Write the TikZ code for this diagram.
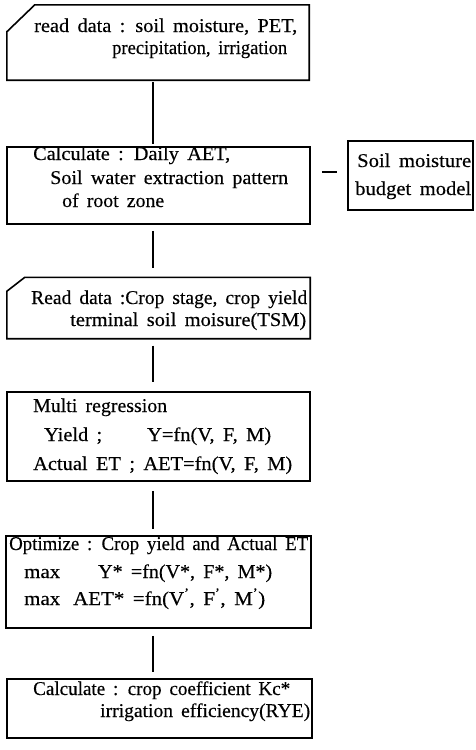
\documentclass[tikz,border=0pt]{standalone}
\usepackage{fontspec}
\setmainfont{Liberation Serif}[FakeBold=0.35]
\usepackage{graphicx}
\newcommand\fitw[2]{\resizebox{#1pt}{\height}{#2}}
\newcommand\pr{\textsuperscript{\textquoteright}}
\newcommand\widespaces{\spaceskip=8pt plus 1pt minus 1pt\relax}
\begin{document}
\begin{tikzpicture}[x=1pt,y=-1pt,
  box/.style={draw, line width=1.6pt, inner sep=0pt},
  cardbox/.style={draw=none, inner sep=0pt},
  cardline/.style={line width=1.6pt},
  txt/.style={anchor=base west, inner sep=0pt, font=\fontsize{19.5}{22}\selectfont\widespaces},
  link/.style={line width=1.8pt}]
\useasboundingbox (0,0) rectangle (475,750);

% boxes
\node[cardbox, minimum width=302pt, minimum height=75pt] (b1) at (158,42.5) {};
\draw[cardline] ([yshift=-27pt]b1.north west) -- ([xshift=28pt]b1.north west) -- (b1.north east) -- (b1.south east) -- (b1.south west) -- cycle;
\node[box, minimum width=303pt, minimum height=77pt] (b2) at (158.5,185.5) {};
\node[box, minimum width=125pt, minimum height=69pt] (side) at (410.5,175.5) {};
\node[cardbox, minimum width=303pt, minimum height=61pt] (b3) at (158.5,308) {};
\draw[cardline] ([yshift=-14pt]b3.north west) -- ([xshift=18pt]b3.north west) -- (b3.north east) -- (b3.south east) -- (b3.south west) -- cycle;
\node[box, minimum width=303pt, minimum height=89pt] (b4) at (158.5,436.5) {};
\node[box, minimum width=305pt, minimum height=92pt] (b5) at (158.5,582) {};
\node[box, minimum width=305pt, minimum height=59pt] (b6) at (159.5,708.5) {};

% connectors
\draw[link, shorten <=2pt, shorten >=2pt] ([xshift=-5pt]b1.south) -- ([xshift=-5pt]b1.south |- b2.north);
\draw[link, shorten <=6pt, shorten >=9pt] ([xshift=-5.5pt]b2.south) -- ([xshift=-5.5pt]b2.south |- b3.north);
\draw[link, shorten <=7pt, shorten >=9pt] ([xshift=-5.5pt]b3.south) -- ([xshift=-5.5pt]b3.south |- b4.north);
\draw[link, shorten <=9pt, shorten >=6pt] ([xshift=-5.5pt]b4.south) -- ([xshift=-5.5pt]b4.south |- b5.north);
\draw[link, shorten <=7pt, shorten >=6pt] ([xshift=-5.5pt]b5.south) -- ([xshift=-5.5pt]b5.south |- b6.north);
\draw[link, shorten <=11pt, shorten >=10pt] ([yshift=3.5pt]side.west -| b2.east) -- ([yshift=3.5pt]side.west);

% texts
\node[txt] (t1a) at (34,32) {\fitw{263}{read data : soil moisture, PET,}};
\node[txt] (t1b) at (112,54) {\fitw{175}{precipitation, irrigation}};

\node[txt] (t2a) at (33,160) {\fitw{197}{Calculate : Daily AET,}};
\node[txt] (t2b) at (50,184) {\fitw{238}{Soil water extraction pattern}};
\node[txt] (t2c) at (62,207) {\fitw{102}{of root zone}};

\node[txt] (s1) at (357,167) {\fitw{114}{Soil moisture}};
\node[txt] (s2) at (355,195) {\fitw{116}{budget model}};

\node[txt] (t3a) at (31,304) {\fitw{276}{Read data :Crop stage, crop yield}};
\node[txt] (t3b) at (70,326) {\fitw{236}{terminal soil moisure(TSM)}};

\node[txt] (t4a) at (33,412) {\fitw{134}{Multi regression}};
\node[txt] (t4b) at (44,441) {\fitw{58}{Yield ;}};
\node[txt] (t4c) at (147,441) {\fitw{124}{Y=fn(V, F, M)}};
\node[txt] (t4d) at (33,470) {\fitw{259}{Actual ET ; AET=fn(V, F, M)}};

\node[txt] (t5a) at (9,550) {\fitw{299}{Optimize : Crop yield and Actual ET}};
\node[txt] (t5b) at (24,578) {\fitw{36}{max}};
\node[txt] (t5c) at (98,578) {\fitw{174}{Y* =fn(V*, F*, M*)}};
\node[txt] (t5d) at (24,605) {\fitw{36}{max}};
\node[txt] (t5e) at (73,605) {\fitw{192}{AET* =fn(V\pr, F\pr, M\pr)}};

\node[txt] (t6a) at (33,695) {\fitw{257}{Calculate : crop coefficient Kc*}};
\node[txt] (t6b) at (100,717) {\fitw{210}{irrigation efficiency(RYE)}};
\end{tikzpicture}
\end{document}
